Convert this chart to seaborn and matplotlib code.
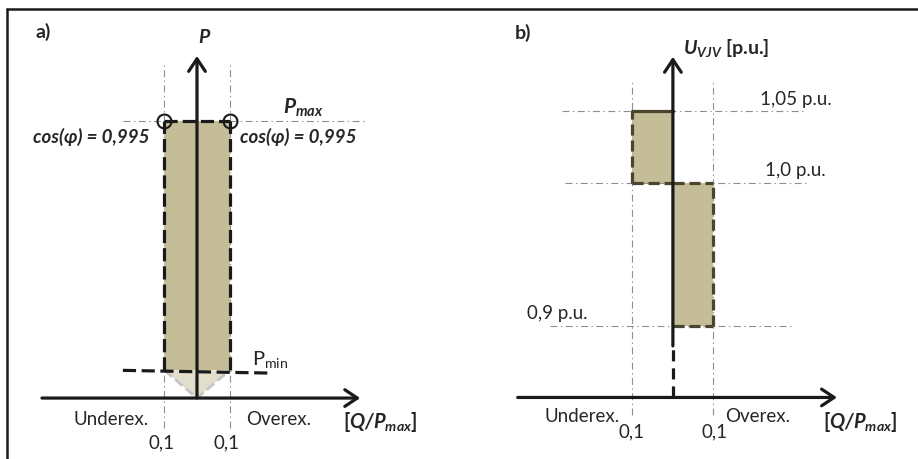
import matplotlib.pyplot as plt
import seaborn as sns
from matplotlib.lines import Line2D

# datos del diagrama (Q/Pmax, P en p.u., U en p.u.)
q_lim = [-0.1, 0.1]
p_max = 1.0
p_min = [0.10, 0.09]          # la linea Pmin esta algo inclinada en el original
cos_phi_txt = 'cos(φ) = 0,995'
q_tick_txt = ['0,1', '0,1']
u_levels = [0.9, 1.0, 1.05]
u_labels = ['0,9 p.u.', '1,0 p.u.', '1,05 p.u.']
u_upper = [1.0, 1.05]         # subexcitado
u_lower = [0.9, 1.0]          # sobreexcitado
u_origin = 0.85

sns.set_theme(style='white')
plt.rcParams['font.family'] = ['Lato', 'DejaVu Sans']
plt.rcParams['mathtext.fontset'] = 'custom'
plt.rcParams['mathtext.rm'] = 'Lato'
plt.rcParams['mathtext.it'] = 'Lato:italic'
plt.rcParams['mathtext.bf'] = 'Lato:bold'
plt.rcParams['mathtext.bfit'] = 'Lato:bold:italic'
plt.rcParams['lines.scale_dashes'] = False

TAN = '#c4bd97'
LIGHT = '#e3dfcd'
GUIDE = '#8f8f8f'
EDGE_B = '#4a452e'
FS = 13.5
guide_kw = dict(color=GUIDE, lw=0.8, dashes=(5, 2.5, 1, 2.5), zorder=1)
arrow_kw = dict(arrowstyle='->,head_length=0.45,head_width=0.3', color='k',
                lw=2.3, shrinkA=0, shrinkB=0, mutation_scale=20)

fig = plt.figure(figsize=(9.18, 4.59), dpi=100)
ax_a = fig.add_axes([0, 0, 0.5, 1])
ax_b = fig.add_axes([0.5, 0, 0.5, 1])
for ax in (ax_a, ax_b):
    ax.axis('off')
ax_a.set_xlim(-0.606, 0.806)
ax_a.set_ylim(-0.220, 1.437)
ax_b.set_xlim(-0.528, 0.605)
ax_b.set_ylim(0.807, 1.1277)

# ---------------- a) ----------------
for q in q_lim:
    ax_a.plot([q, q], [-0.108, 1.213], **guide_kw)
ax_a.plot([-0.228, 0.52], [p_max, p_max], **guide_kw)

ax_a.fill_between(q_lim, p_min[0], p_max, color=TAN, lw=0, zorder=2)
ax_a.fill([q_lim[0], 0, q_lim[1]], [p_min[0], 0, p_min[0]], color=LIGHT, lw=0, zorder=2)
ax_a.plot([q_lim[0], 0, q_lim[1]], [p_min[0], 0, p_min[0]], color='#c6c6c6', lw=2,
          dashes=(7, 3), zorder=3)

for q in q_lim:
    ax_a.plot([q, q], [p_min[0], p_max], color='k', lw=2.3, dashes=(9.5, 3.6), zorder=3)
ax_a.plot(q_lim, [p_max, p_max], color='k', lw=2.3, dashes=(9.5, 3.6), zorder=3)
ax_a.plot([-0.228, 0.231], p_min, color='k', lw=2.3, dashes=(9.5, 4), zorder=3)
ax_a.plot(q_lim, [p_max, p_max], 'o', mfc='none', mec='k', ms=10, mew=1.5, zorder=5)

ax_a.annotate('', xy=(0, 1.235), xytext=(0, 0), arrowprops=arrow_kw, zorder=4)
ax_a.annotate('', xy=(0.502, 0), xytext=(-0.477, 0), arrowprops=arrow_kw, zorder=4)

ax_a.text(-0.498, 1.321, 'a)', fontsize=14, fontweight='bold', ha='left', va='center')
ax_a.text(0.02, 1.303, 'P', fontsize=14, fontweight='bold', style='italic', ha='center', va='center')
ax_a.text(0.326, 1.025, r'$\mathbfit{P}_{\mathbfit{max}}$', fontsize=15, ha='center', va='baseline')
ax_a.text(-0.145, 0.942, cos_phi_txt, fontsize=FS, fontweight='bold', style='italic',
          ha='right', va='center')
ax_a.text(0.132, 0.942, cos_phi_txt, fontsize=FS, fontweight='bold', style='italic',
          ha='left', va='center')
ax_a.text(0.169, 0.14, r'P$_{\mathrm{min}}$', fontsize=14.5, ha='left', va='center')
ax_a.text(-0.265, -0.079, 'Underex.', fontsize=FS, ha='center', va='center')
ax_a.text(0.25, -0.079, 'Overex.', fontsize=FS, ha='center', va='center')
for q, t in zip([-0.108, 0.092], q_tick_txt):
    ax_a.text(q, -0.162, t, fontsize=FS, ha='center', va='center')
ax_a.text(0.563, -0.088, r'$\mathbf{[}\mathbfit{Q/P}_{\mathbfit{max}}\mathbf{]}$',
          fontsize=14.5, ha='center', va='center')

# ---------------- b) ----------------
for q in q_lim:
    ax_b.plot([q, q], [0.838, 1.072], **guide_kw)
for u, x0, x1 in zip(u_levels, [-0.304, -0.267, -0.274], [0.296, 0.331, 0.321]):
    ax_b.plot([x0, x1], [u, u], **guide_kw)

ax_b.fill_between([q_lim[0], 0], u_upper[0], u_upper[1], color=TAN, lw=0, zorder=2)
ax_b.fill_between([0, q_lim[1]], u_lower[0], u_lower[1], color=TAN, lw=0, zorder=2)
edge_kw = dict(color=EDGE_B, lw=2.3, dashes=(8, 3.5), zorder=3)
ax_b.plot([q_lim[0], q_lim[0]], u_upper, **edge_kw)
ax_b.plot([q_lim[0], 0], [u_upper[1]] * 2, color=EDGE_B, lw=2.3, zorder=3)
ax_b.plot([q_lim[0], 0], [u_upper[0]] * 2, **edge_kw)
ax_b.plot([0, q_lim[1]], [u_lower[1]] * 2, **edge_kw)
ax_b.plot([q_lim[1], q_lim[1]], u_lower, **edge_kw)
ax_b.plot([0, q_lim[1]], [u_lower[0]] * 2, **edge_kw)

ax_b.plot([0, 0], [u_origin, 0.886], color='k', lw=2.3, dashes=(8, 5), zorder=4)
ax_b.annotate('', xy=(0, 1.088), xytext=(0, 0.886), arrowprops=arrow_kw, zorder=4)
ax_b.annotate('', xy=(0.405, u_origin), xytext=(-0.383, u_origin), arrowprops=arrow_kw, zorder=4)

ax_b.text(-0.39, 1.105, 'b)', fontsize=14, fontweight='bold', ha='left', va='center')
ax_b.text(0.025, 1.094, r'$\mathbfit{U}_{\mathbfit{VJV}}$ [p.u.]', fontsize=14,
          fontweight='bold', ha='left', va='center')
for u, t, x in zip(u_levels, u_labels, [-0.36, 0.227, 0.215]):
    ax_b.text(x, u + 0.0085, t, fontsize=FS, ha='left', va='center')
ax_b.text(-0.225, 0.837, 'Underex.', fontsize=FS, ha='center', va='center')
ax_b.text(0.21, 0.837, 'Overex.', fontsize=FS, ha='center', va='center')
for q, t in zip([-0.101, 0.104], q_tick_txt):
    ax_b.text(q, 0.826, t, fontsize=FS, ha='center', va='center')
ax_b.text(0.462, 0.8326, r'$\mathbf{[}\mathbfit{Q/P}_{\mathbfit{max}}\mathbf{]}$',
          fontsize=14.5, ha='center', va='center')

# marco (solo arriba e izquierda, como en la imagen)
fig.add_artist(Line2D([0.0076, 0.0076], [0, 0.981], color='k', lw=1.8))
fig.add_artist(Line2D([0.0076, 1], [0.981, 0.981], color='k', lw=1.8))

fig.savefig('out.png', dpi=100)
